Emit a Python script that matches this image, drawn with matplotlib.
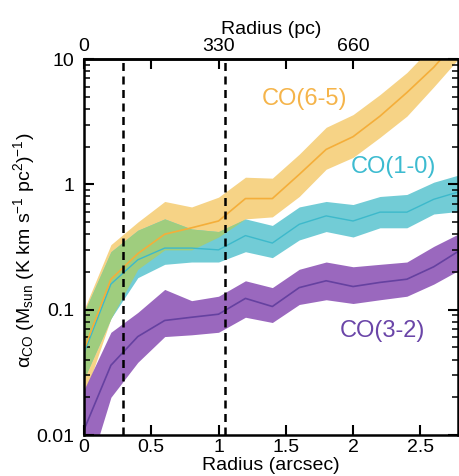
import numpy as np
import matplotlib
matplotlib.use("Agg")
import matplotlib.pyplot as plt
from matplotlib.ticker import NullFormatter, LogLocator

plt.rcParams['font.family'] = ['Liberation Sans', 'DejaVu Sans']
plt.rcParams['mathtext.fontset'] = 'custom'
plt.rcParams['mathtext.rm'] = 'Liberation Sans'
plt.rcParams['mathtext.it'] = 'Liberation Sans:italic'

# ---- data (radius in arcsec) ----
radius = [0.0, 0.2, 0.4, 0.6, 0.8, 1.0, 1.2, 1.4, 1.6, 1.8, 2.0, 2.2, 2.4, 2.6, 2.8]

co65_mid = [0.048, 0.175, 0.28, 0.40, 0.45, 0.51, 0.77, 0.77, 1.20, 1.90, 2.4, 3.5, 5.4, 8.6, 15.0]
co65_lo = [0.020, 0.085, 0.21, 0.30, 0.30, 0.38, 0.53, 0.55, 0.80, 1.32, 1.64, 2.37, 3.5, 6.0, 10.5]
co65_hi = [0.100, 0.33, 0.50, 0.73, 0.66, 0.79, 1.14, 1.12, 1.74, 2.85, 3.6, 5.2, 7.8, 13.0, 21.0]

co10_mid = [0.045, 0.16, 0.25, 0.31, 0.31, 0.30, 0.39, 0.34, 0.48, 0.56, 0.51, 0.60, 0.60, 0.76, 0.88]
co10_lo = [0.028, 0.085, 0.18, 0.23, 0.24, 0.24, 0.29, 0.26, 0.36, 0.42, 0.38, 0.45, 0.45, 0.58, 0.61]
co10_hi = [0.095, 0.29, 0.43, 0.53, 0.44, 0.42, 0.53, 0.47, 0.66, 0.73, 0.69, 0.80, 0.83, 1.04, 1.20]

co32_mid = [0.011, 0.036, 0.061, 0.082, 0.087, 0.092, 0.123, 0.106, 0.15, 0.17, 0.153, 0.165, 0.175, 0.22, 0.30]
co32_lo = [0.004, 0.020, 0.038, 0.061, 0.063, 0.066, 0.087, 0.079, 0.11, 0.12, 0.112, 0.12, 0.128, 0.16, 0.21]
co32_hi = [0.023, 0.066, 0.095, 0.145, 0.118, 0.128, 0.17, 0.15, 0.21, 0.24, 0.22, 0.23, 0.24, 0.32, 0.41]

boundaries = [0.29, 1.05]          # dashed vertical lines (arcsec)
top_tick_pos = [0, 0.5, 1.0, 1.5, 2.0, 2.5]
top_tick_labels = ['0', '', '330', '', '660', '']
bottom_ticks = [0, 0.5, 1, 1.5, 2, 2.5]
bottom_tick_labels = ['0', '0.5', '1', '1.5', '2', '2.5']
y_ticks = [0.01, 0.1, 1, 10]
y_tick_labels = ['0.01', '0.1', '1', '10']

# colours
c65_band, c65_line = '#F6D386', '#F4AE3A'
c10_band, c10_line = '#72CCD6', '#3DB9CB'
c32_band, c32_line = '#9A68BE', '#6541A0'
c_overlap = '#9FCD7E'

fig = plt.figure(figsize=(4.59, 4.76), dpi=100)
ax = fig.add_axes([84/459, 1-435/476, (458-84)/459, (435-59)/476])

x = np.array(radius)
lo65, hi65 = np.array(co65_lo), np.array(co65_hi)
lo10, hi10 = np.array(co10_lo), np.array(co10_hi)

ax.fill_between(x, lo65, hi65, color=c65_band, lw=0)
ax.fill_between(x, lo10, hi10, color=c10_band, lw=0)
olo = np.maximum(lo65, lo10)
ohi = np.minimum(hi65, hi10)
ax.fill_between(x, olo, ohi, where=ohi > olo, interpolate=True, color=c_overlap, lw=0)
ax.fill_between(x, co32_lo, co32_hi, color=c32_band, lw=0)

ax.plot(x, co10_mid, color=c10_line, lw=1.0)
ax.plot(x, co65_mid, color=c65_line, lw=1.2)
ax.plot(x, co32_mid, color=c32_line, lw=1.2)

for b in boundaries:
    ax.axvline(b, color='black', lw=1.8, ls=(0, (3.2, 2.2)))

ax.set_yscale('log')
ax.set_ylim(0.01, 10)
ax.set_xlim(0, 2.78)

ax.set_xticks(bottom_ticks)
ax.set_xticklabels(bottom_tick_labels)
ax.set_yticks(y_ticks)
ax.set_yticklabels(y_tick_labels)
ax.yaxis.set_minor_locator(LogLocator(base=10, subs=np.arange(2, 10)))
ax.yaxis.set_minor_formatter(NullFormatter())

ax.tick_params(axis='both', which='major', direction='in', length=7, width=1.5,
               labelsize=14, right=True, top=False)
ax.tick_params(axis='y', which='minor', direction='in', length=4, width=1.1, right=True)
ax.tick_params(axis='x', which='major', pad=3)
ax.tick_params(axis='y', which='major', pad=7)
for s in ax.spines.values():
    s.set_linewidth(1.8)

ax_top = ax.secondary_xaxis('top')
ax_top.set_xticks(top_tick_pos)
ax_top.set_xticklabels(top_tick_labels)
ax_top.tick_params(direction='in', length=7, width=1.5, labelsize=14, pad=3)
ax_top.spines['top'].set_linewidth(1.8)
ax_top.set_xlabel('Radius (pc)', fontsize=14, labelpad=3)

ax.set_xlabel('Radius (arcsec)', fontsize=14)
ax.xaxis.set_label_coords(0.5, -0.058)
ax.set_ylabel('α$_{\\rm CO}$ (M$_{\\rm sun}$ (K km s$^{-1}$ pc$^{2}$)$^{-1}$)', fontsize=14)
ax.yaxis.set_label_coords(-0.125, 0.49)

ax.text(1.64, 4.8, 'CO(6-5)', color='#F5B44A', fontsize=17, ha='center', va='center')
ax.text(2.30, 1.37, 'CO(1-0)', color='#3DBBD0', fontsize=17, ha='center', va='center')
ax.text(2.22, 0.068, 'CO(3-2)', color='#6A45A8', fontsize=17, ha='center', va='center')

fig.savefig('out.png', dpi=100)
